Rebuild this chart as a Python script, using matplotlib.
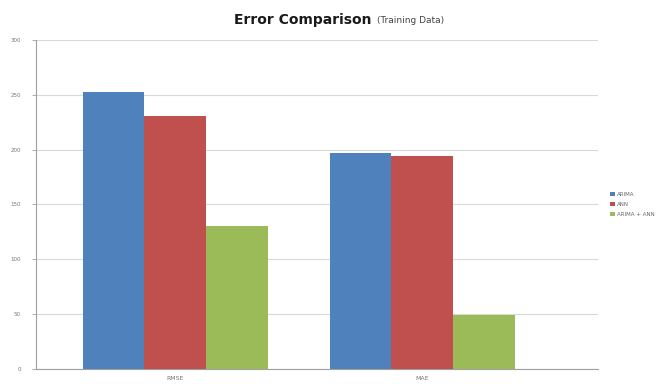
import matplotlib

matplotlib.use("Agg")

import matplotlib.pyplot as plt  # noqa: E402
import numpy as np  # noqa: E402

# Error metrics on the training data, per model.
metrics = ["RMSE", "MAE"]
models = ["ARIMA", "ANN", "ARIMA + ANN"]
arima = [252, 197]
ann = [231, 194]
hybrid = [130, 49]
yticks = [0, 50, 100, 150, 200, 250, 300]

colors = ["#4F81BD", "#C0504D", "#9BBB59"]

fig = plt.figure(figsize=(6.7, 3.87), dpi=100)
ax = fig.add_axes([0.054, 0.047, 0.839, 0.85])

x = np.arange(len(metrics))
width = 0.25
for i, (vals, name) in enumerate(zip([arima, ann, hybrid], models)):
    ax.bar(x + (i - 1) * width, vals, width, color=colors[i], label=name,
           zorder=3, linewidth=0)

ax.set_ylim(0, 300)
ax.set_xlim(-0.563, 0.713 + 1)
ax.set_yticks(yticks)
ax.set_yticklabels([str(t) for t in yticks], fontsize=4, color="#777777")
ax.set_xticks(x)
ax.set_xticklabels(metrics, fontsize=4.5, color="#777777")
ax.yaxis.grid(True, color="#d9d9d9", linewidth=0.8, zorder=0)
ax.tick_params(axis="y", length=3, width=0.6, color="#a0a0a0", pad=8)
ax.tick_params(axis="x", length=0, pad=5)
for side in ("top", "right"):
    ax.spines[side].set_visible(False)
for side in ("left", "bottom"):
    ax.spines[side].set_color("#a0a0a0")
    ax.spines[side].set_linewidth(0.8)

leg = ax.legend(loc="center left", bbox_to_anchor=(1.012, 0.5), frameon=False,
                fontsize=4, handlelength=0.8, handleheight=0.8,
                handletextpad=0.4, labelspacing=0.9)
for t in leg.get_texts():
    t.set_color("#666666")

fig.text(0.562, 0.948, "Error Comparison ", ha="right", va="center",
         fontsize=10, fontweight="bold", color="#1a1a1a")
fig.text(0.562, 0.948, "(Training Data)", ha="left", va="center",
         fontsize=6.5, color="#444444")

fig.savefig("out.png", dpi=100)
